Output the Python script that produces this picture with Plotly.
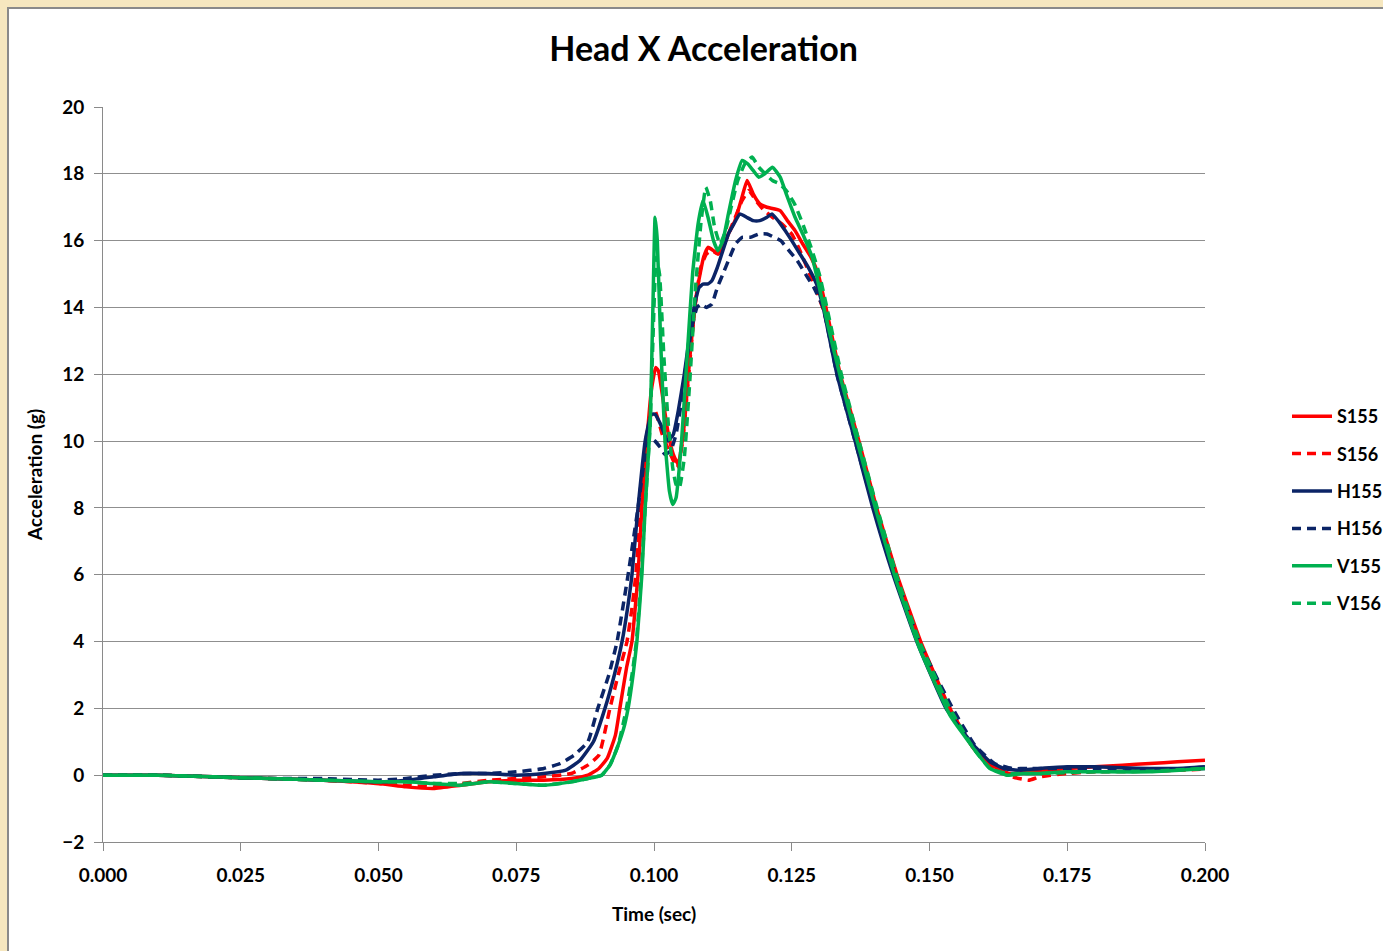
import plotly.graph_objects as go

# ---------------- data (time in s, acceleration in g) ----------------
t_S155 = [0, 0.01, 0.02, 0.03, 0.04, 0.05, 0.055, 0.06, 0.065, 0.07, 0.075, 0.08, 0.085, 0.088,
          0.090, 0.0915, 0.093, 0.0938, 0.095, 0.096, 0.0971, 0.0978, 0.0987, 0.0995, 0.1003, 0.1008,
          0.1015, 0.1025, 0.1035, 0.1044, 0.1055, 0.1065, 0.1078, 0.109, 0.1098, 0.1108, 0.1116,
          0.1125, 0.1135, 0.1147, 0.1158, 0.1169, 0.118, 0.1192, 0.1205, 0.1229, 0.1242, 0.1256,
          0.1270, 0.1285, 0.1298, 0.1312, 0.1338, 0.1372, 0.1404, 0.1441, 0.1484, 0.1537, 0.158,
          0.1612, 0.1645, 0.167, 0.17, 0.175, 0.18, 0.185, 0.19, 0.195, 0.2]
a_S155 = [0, 0.0, -0.05, -0.1, -0.15, -0.25, -0.35, -0.4, -0.3, -0.2, -0.15, -0.15, -0.1, 0.0,
          0.2, 0.5, 1.2, 2.0, 3.2, 4.0, 6.0, 8.0, 10.0, 11.5, 12.2, 12.1,
          11.4, 10.3, 9.6, 9.3, 10.5, 12.5, 14.5, 15.5, 15.8, 15.7, 15.6,
          15.8, 16.2, 16.6, 17.2, 17.8, 17.4, 17.1, 17.0, 16.9, 16.6, 16.3,
          15.9, 15.5, 15.0, 14.0, 12.0, 10.0, 8.0, 6.0, 4.0, 2.0, 0.8,
          0.3, 0.05, 0.08, 0.12, 0.2, 0.25, 0.3, 0.35, 0.4, 0.45]

t_S156 = [0, 0.01, 0.02, 0.03, 0.04, 0.05, 0.055, 0.06, 0.065, 0.07, 0.075, 0.08, 0.085, 0.088,
          0.090, 0.0920, 0.0935, 0.0951, 0.0960, 0.0967, 0.0976, 0.0985, 0.0995, 0.1002, 0.1015,
          0.1030, 0.1042, 0.1052, 0.1062, 0.1074, 0.1085, 0.1095, 0.1105, 0.1116, 0.1125, 0.1135,
          0.1150, 0.1160, 0.1172, 0.1185, 0.1200, 0.1215, 0.1232, 0.1250, 0.1265, 0.128, 0.1295,
          0.131, 0.1335, 0.1370, 0.1402, 0.1439, 0.1482, 0.1537, 0.158, 0.1615, 0.1650, 0.168,
          0.170, 0.175, 0.18, 0.19, 0.2]
a_S156 = [0, 0, -0.05, -0.1, -0.15, -0.25, -0.3, -0.35, -0.25, -0.15, -0.1, -0.05, 0.05, 0.3,
          0.6, 2.0, 3.0, 4.0, 5.0, 6.0, 8.0, 10.0, 10.8, 10.9, 10.2,
          9.6, 9.2, 10.0, 11.8, 14.0, 15.2, 15.6, 15.7, 15.6, 15.8, 16.2,
          16.8, 17.2, 17.5, 17.2, 16.9, 16.7, 16.5, 16.2, 15.7, 15.1, 14.5,
          13.8, 12.0, 10.0, 8.0, 6.0, 4.0, 2.0, 0.8, 0.2, -0.05, -0.15,
          -0.05, 0.05, 0.1, 0.12, 0.18]

t_H155 = [0, 0.01, 0.02, 0.03, 0.04, 0.05, 0.055, 0.06, 0.065, 0.07, 0.075, 0.08, 0.084, 0.0866,
          0.089, 0.0911, 0.0928, 0.0942, 0.0952, 0.0960, 0.0971, 0.0984, 0.0995, 0.1002, 0.1012,
          0.1025, 0.1035, 0.1044, 0.1055, 0.1065, 0.1074, 0.1082, 0.1089, 0.1097, 0.1105, 0.1115,
          0.1123, 0.1135, 0.1145, 0.1156, 0.1168, 0.118, 0.1192, 0.1205, 0.1214, 0.1225, 0.1238,
          0.125, 0.1265, 0.1280, 0.1295, 0.1307, 0.1332, 0.1365, 0.1397, 0.1434, 0.1477, 0.1530,
          0.158, 0.161, 0.1635, 0.166, 0.17, 0.175, 0.18, 0.185, 0.19, 0.195, 0.2]
a_H155 = [0, 0, -0.05, -0.1, -0.15, -0.2, -0.15, -0.05, 0.05, 0.05, 0.0, 0.05, 0.15, 0.45,
          1.0, 2.0, 3.0, 4.0, 5.0, 6.0, 8.0, 10.0, 10.8, 10.8, 10.5,
          10.0, 10.2, 10.9, 12.0, 13.2, 14.1, 14.6, 14.7, 14.7, 14.8, 15.2,
          15.6, 16.2, 16.5, 16.8, 16.7, 16.6, 16.6, 16.7, 16.8, 16.6, 16.3,
          16.0, 15.6, 15.2, 14.7, 14.0, 12.0, 10.0, 8.0, 6.0, 4.0, 2.0,
          0.9, 0.4, 0.2, 0.15, 0.2, 0.25, 0.25, 0.22, 0.2, 0.2, 0.25]

t_H156 = [0, 0.01, 0.02, 0.03, 0.04, 0.05, 0.055, 0.06, 0.065, 0.07, 0.075, 0.08, 0.083, 0.0855,
          0.088, 0.0898, 0.0918, 0.0933, 0.0953, 0.0962, 0.0971, 0.0984, 0.0993, 0.1002, 0.1012,
          0.102, 0.1030, 0.1040, 0.1050, 0.1060, 0.1070, 0.1078, 0.1085, 0.1095, 0.1105, 0.1115,
          0.1125, 0.1135, 0.1148, 0.1160, 0.1175, 0.119, 0.1205, 0.1218, 0.1230, 0.1245, 0.126,
          0.1275, 0.129, 0.1307, 0.1332, 0.1365, 0.1399, 0.1438, 0.1481, 0.1542, 0.1582, 0.1618,
          0.1650, 0.168, 0.175, 0.18, 0.19, 0.2]
a_H156 = [0, 0, -0.05, -0.1, -0.1, -0.15, -0.1, 0.0, 0.05, 0.05, 0.1, 0.2, 0.35, 0.6,
          1.0, 2.0, 3.0, 4.0, 6.0, 7.0, 8.0, 9.6, 10.1, 10.0, 9.8,
          9.6, 9.7, 10.2, 11.2, 12.5, 13.5, 14.0, 14.1, 14.0, 14.1, 14.6,
          15.0, 15.4, 15.9, 16.1, 16.1, 16.2, 16.2, 16.1, 16.0, 15.7, 15.4,
          15.0, 14.6, 14.0, 12.0, 10.0, 8.0, 6.0, 4.0, 2.0, 0.9, 0.35,
          0.2, 0.2, 0.2, 0.2, 0.15, 0.2]

t_V155 = [0, 0.01, 0.02, 0.03, 0.04, 0.05, 0.055, 0.06, 0.065, 0.07, 0.075, 0.08, 0.085, 0.088,
          0.0905, 0.0920, 0.0935, 0.0945, 0.0953, 0.0962, 0.0969, 0.0978, 0.0984, 0.0993, 0.0998,
          0.1002, 0.1006, 0.1012, 0.1020, 0.1028, 0.1034, 0.1040, 0.1050, 0.1060, 0.1070, 0.1080,
          0.1089, 0.1098, 0.1108, 0.1116, 0.1125, 0.1135, 0.1148, 0.1160, 0.1170, 0.1180, 0.1190,
          0.1201, 0.1215, 0.1229, 0.1240, 0.1256, 0.1270, 0.1287, 0.1300, 0.1315, 0.1340, 0.1372,
          0.1405, 0.1440, 0.1482, 0.1537, 0.158, 0.161, 0.1641, 0.167, 0.17, 0.175, 0.18, 0.19, 0.2]
a_V155 = [0, 0, -0.05, -0.1, -0.15, -0.2, -0.2, -0.25, -0.3, -0.2, -0.25, -0.3, -0.2, -0.1,
          0.0, 0.3, 0.9, 1.4, 2.0, 3.0, 4.0, 6.0, 8.0, 10.5, 14.0,
          16.7, 16.0, 13.0, 10.0, 8.5, 8.1, 8.3, 10.0, 12.5, 15.0, 16.5,
          17.2, 16.7, 16.0, 15.7, 16.0, 16.8, 17.8, 18.4, 18.3, 18.1, 17.9,
          18.0, 18.2, 17.9, 17.4, 16.7, 16.2, 15.5, 14.6, 13.5, 11.8, 9.8,
          7.8, 5.8, 3.8, 1.8, 0.8, 0.2, 0.0, 0.05, 0.05, 0.1, 0.1, 0.1, 0.2]

t_V156 = [0, 0.01, 0.02, 0.03, 0.04, 0.05, 0.055, 0.06, 0.065, 0.07, 0.075, 0.08, 0.085, 0.088,
          0.0905, 0.0920, 0.0935, 0.0950, 0.0960, 0.0968, 0.0977, 0.0984, 0.0993, 0.0998, 0.1004,
          0.1010, 0.1018, 0.1026, 0.1034, 0.1040, 0.1046, 0.1055, 0.1065, 0.1075, 0.1085, 0.1094,
          0.1102, 0.1110, 0.1120, 0.1130, 0.1140, 0.1152, 0.1165, 0.1178, 0.1190, 0.1202, 0.1215,
          0.1228, 0.1240, 0.1255, 0.1270, 0.1285, 0.1300, 0.1315, 0.1340, 0.1372, 0.1405, 0.1440,
          0.1482, 0.1537, 0.158, 0.161, 0.1641, 0.167, 0.17, 0.18, 0.19, 0.2]
a_V156 = [0, 0, -0.05, -0.1, -0.15, -0.2, -0.2, -0.25, -0.25, -0.2, -0.25, -0.3, -0.2, -0.1,
          0.0, 0.3, 0.9, 2.0, 3.0, 4.0, 6.0, 8.0, 10.5, 13.0, 15.5,
          15.0, 12.5, 10.5, 9.2, 8.7, 8.6, 9.5, 11.8, 14.5, 16.5, 17.6,
          17.2, 16.4, 15.9, 16.3, 17.0, 17.8, 18.3, 18.5, 18.2, 18.0, 17.8,
          17.7, 17.5, 17.1, 16.5, 15.8, 15.0, 13.9, 12.0, 10.0, 8.0, 6.0,
          4.0, 2.0, 0.8, 0.2, 0.05, 0.05, 0.05, 0.1, 0.12, 0.2]

series_names = ["S155", "S156", "H155", "H156", "V155", "V156"]
series_t = [t_S155, t_S156, t_H155, t_H156, t_V155, t_V156]
series_a = [a_S155, a_S156, a_H155, a_H156, a_V155, a_V156]

x_ticks = [0.0, 0.025, 0.05, 0.075, 0.1, 0.125, 0.15, 0.175, 0.2]
y_ticks = [-2, 0, 2, 4, 6, 8, 10, 12, 14, 16, 18, 20]

# ---------------- styling ----------------
RED = "#FF0000"
NAVY = "#0B2466"
GREEN = "#00B050"
colors = [RED, RED, NAVY, NAVY, GREEN, GREEN]
dashes = ["solid", "9px,6px", "solid", "9px,6px", "solid", "9px,6px"]
FONT = "Lato"

fig = go.Figure()
for name, t, a, c, d in zip(series_names, series_t, series_a, colors, dashes):
    fig.add_trace(go.Scatter(
        x=t, y=a, mode="lines", name=name, legendgroup=name,
        line=dict(color=c, width=3.5, dash=d, shape="spline", smoothing=0.4),
    ))

fig.update_layout(
    width=1383, height=951,
    margin=dict(l=103, r=178, t=107, b=109, autoexpand=False),
    paper_bgcolor="#F6E7BF",
    plot_bgcolor="white",
    font=dict(family=FONT, size=18, color="black"),
    title=dict(text="<b>Head X Acceleration</b>", x=0.545, xref="paper", xanchor="center",
               y=1 - 49 / 951, yanchor="middle", font=dict(size=34, family=FONT)),
    showlegend=True,
    legend=dict(x=(1287 - 103) / 1102, xanchor="left", y=(842 - 510) / 735, yanchor="middle",
                tracegroupgap=11,
                font=dict(size=18, family=FONT, weight="bold"), bgcolor="rgba(0,0,0,0)",
                itemwidth=40),
    shapes=[dict(type="rect", xref="paper", yref="paper",
                 x0=(8 - 103) / 1102, x1=(1420 - 103) / 1102,
                 y0=(842 - 980) / 735, y1=(842 - 8) / 735,
                 fillcolor="white", line=dict(color="#8A8A8A", width=2), layer="below")],
)

fig.update_xaxes(
    range=[0, 0.2], tickvals=x_ticks, ticktext=[f"{v:.3f}" for v in x_ticks],
    showgrid=False, zeroline=False, showline=True, linecolor="#8A8A8A", linewidth=1,
    ticks="outside", ticklen=8, tickcolor="#8A8A8A", ticklabelstandoff=8,
    tickfont=dict(size=19, family=FONT, weight="bold"),
    title=dict(text="<b>Time (sec)</b>", font=dict(size=19, family=FONT), standoff=22),
)
fig.update_yaxes(
    range=[-2, 20], tickvals=y_ticks,
    showgrid=True, gridcolor="#8F8F8F", gridwidth=1, zeroline=False,
    showline=True, linecolor="#8A8A8A", linewidth=1,
    ticks="outside", ticklen=8, tickcolor="#8A8A8A", ticklabelstandoff=6,
    tickfont=dict(size=19, family=FONT, weight="bold"),
    title=dict(text="<b>Acceleration (g)</b>", font=dict(size=19, family=FONT), standoff=14),
)

fig.write_html("out.html")
